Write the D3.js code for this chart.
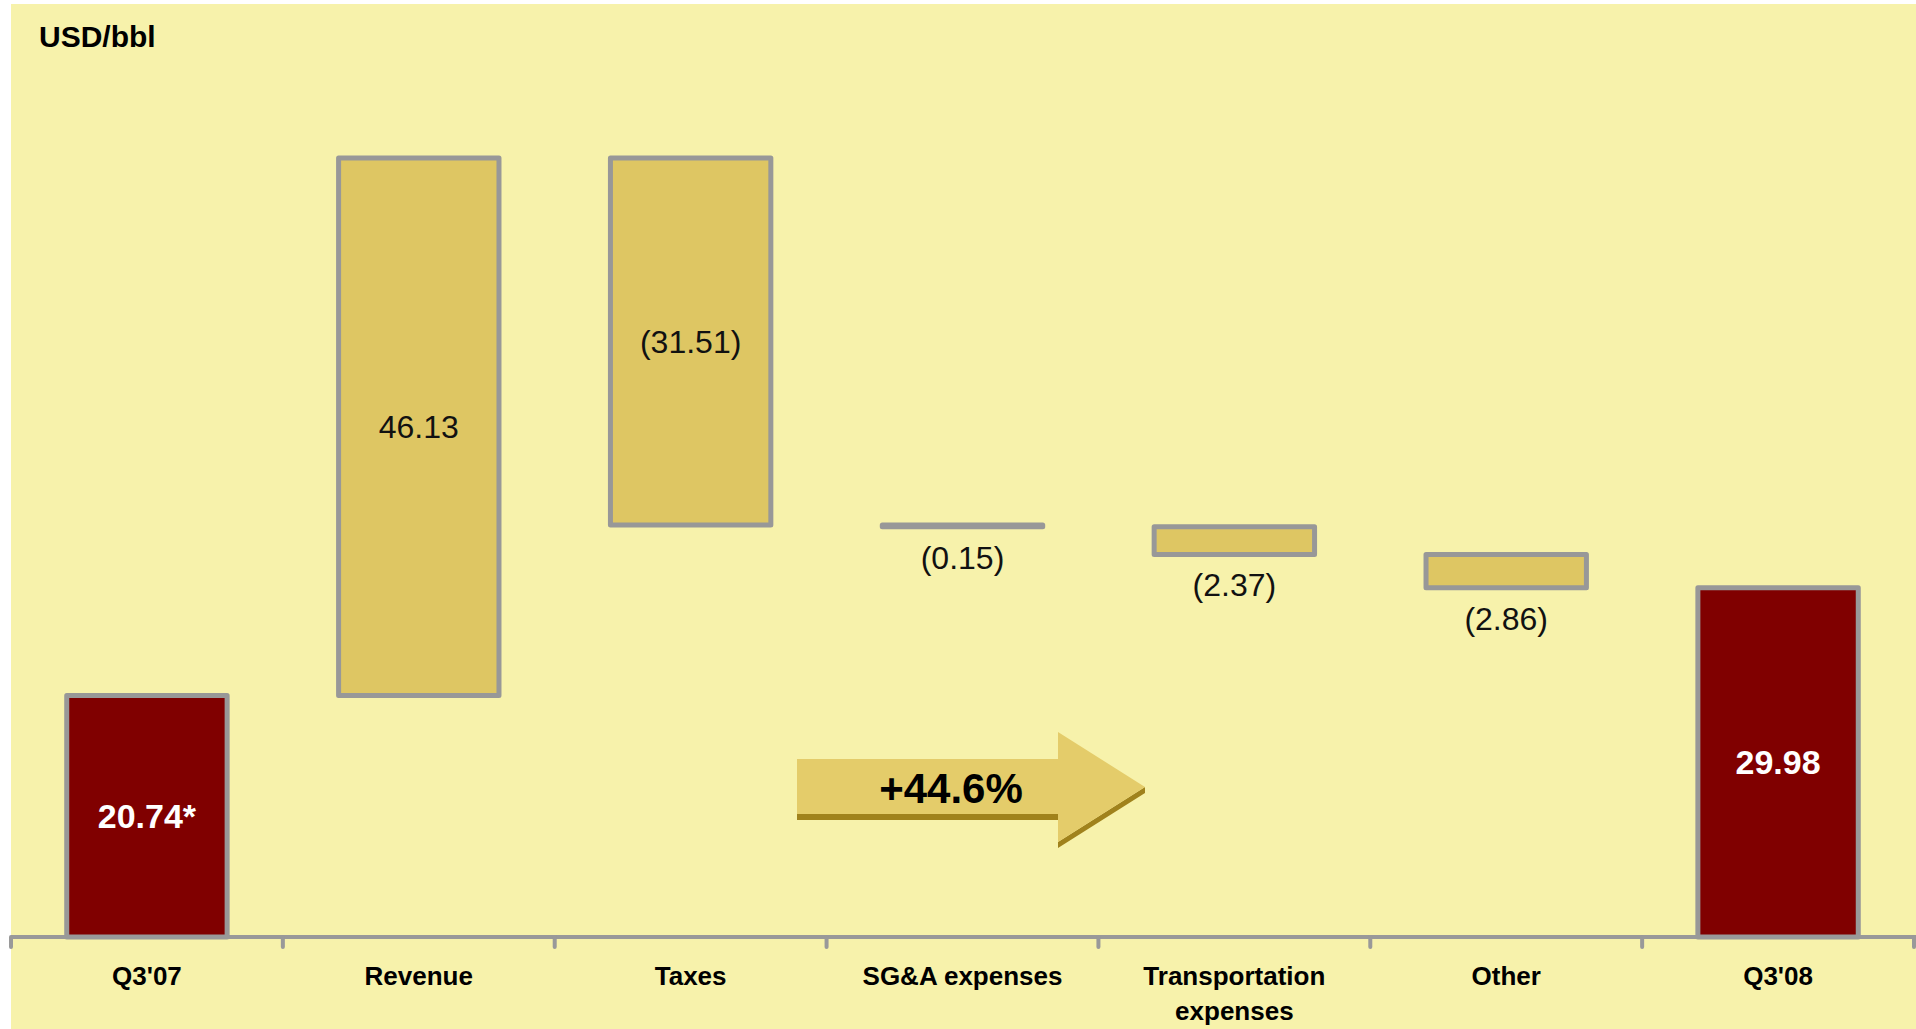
<!DOCTYPE html>
<html>
<head>
<meta charset="utf-8">
<script src="https://cdn.jsdelivr.net/npm/d3@7"></script>
<style>
  html, body { margin: 0; padding: 0; background: #ffffff; }
  svg { display: block; }
  text { font-family: "Liberation Sans", Arial, sans-serif; }
</style>
</head>
<body>
<svg id="chart" width="1916" height="1029"></svg>
<script>
// ---- data ----
const categories = ["Q3'07", "Revenue", "Taxes", "SG&A expenses", "Transportation expenses", "Other", "Q3'08"];
const categoryLines = [["Q3'07"], ["Revenue"], ["Taxes"], ["SG&A expenses"], ["Transportation", "expenses"], ["Other"], ["Q3'08"]];
const values = [20.74, 46.13, -31.51, -0.15, -2.37, -2.86, 29.98];
const barTypes = ["total", "delta", "delta", "delta", "delta", "delta", "total"];
const labelSuffix = ["*", "", "", "", "", "", ""];
const unitLabel = "USD/bbl";
const changeLabel = "+44.6%";
const yTicks = [0, 80];

// ---- layout ----
const W = 1916, H = 1029;
const svg = d3.select("#chart");
const bgLeft = 11, bgTop = 4;
const axisY = 937;

svg.append("rect").attr("x", bgLeft).attr("y", bgTop)
  .attr("width", W - bgLeft).attr("height", H - bgTop).attr("fill", "#F7F2AB");

const x = d3.scaleBand().domain(categories).range([bgLeft, 1914]).padding(0);
const y = d3.scaleLinear().domain(yTicks).range([axisY, 5]);

// waterfall computation
let running = 0;
const bars = categories.map((c, i) => {
  let lo, hi;
  if (barTypes[i] === "total") {
    lo = 0; hi = values[i]; running = values[i];
  } else {
    const start = running; running = start + values[i];
    lo = Math.min(start, running); hi = Math.max(start, running);
  }
  return { cat: c, value: values[i], type: barTypes[i], lo, hi, i };
});

const barW = x.bandwidth() * 0.59;
const g = svg.append("g");

g.selectAll("rect.bar").data(bars).enter().append("rect")
  .attr("class", "bar")
  .attr("x", d => x(d.cat) + (x.bandwidth() - barW) / 2)
  .attr("y", d => y(d.hi))
  .attr("width", barW)
  .attr("height", d => Math.max(0.5, y(d.lo) - y(d.hi)))
  .attr("fill", d => d.type === "total" ? "#800000" : "#DEC663")
  .attr("stroke", "#989898")
  .attr("stroke-width", 5)
  .attr("stroke-linejoin", "round");

// axis
const axis = d3.axisBottom(x).tickSize(0).tickFormat("");
const axG = svg.append("g").attr("transform", `translate(0,${axisY})`).call(axis);
axG.select(".domain").attr("stroke", "#999999").attr("stroke-width", 4).attr("d", `M${bgLeft},0H${W}`);
// boundary ticks
const boundaries = categories.map(c => x(c)).concat([x.range()[1]]);
axG.selectAll("line.btick").data(boundaries).enter().append("line")
  .attr("class", "btick")
  .attr("x1", d => d).attr("x2", d => d)
  .attr("y1", 0).attr("y2", 10)
  .attr("stroke", "#999999").attr("stroke-width", 4).attr("stroke-linecap", "round");

// category labels
const catG = svg.append("g");
categoryLines.forEach((lines, i) => {
  const t = catG.append("text")
    .attr("x", x(categories[i]) + x.bandwidth() / 2)
    .attr("y", 985)
    .attr("text-anchor", "middle")
    .attr("font-size", 26).attr("font-weight", "bold").attr("fill", "#000");
  lines.forEach((ln, k) => {
    t.append("tspan").attr("x", x(categories[i]) + x.bandwidth() / 2)
      .attr("dy", k === 0 ? 0 : 35).text(ln);
  });
});

// value labels
const fmt = v => v < 0 ? `(${d3.format(".2f")(-v)})` : d3.format(".2f")(v);
bars.forEach(d => {
  const cx = x(d.cat) + x.bandwidth() / 2;
  const h = y(d.lo) - y(d.hi);
  let ty, col, weight, size;
  if (d.type === "total") {
    ty = (y(d.lo) + y(d.hi)) / 2; col = "#ffffff"; weight = "bold"; size = 34;
  } else if (h > 60) {
    ty = (y(d.lo) + y(d.hi)) / 2; col = "#111"; weight = "normal"; size = 32;
  } else {
    ty = y(d.lo) + 31; col = "#111"; weight = "normal"; size = 32;
  }
  svg.append("text")
    .attr("x", cx).attr("y", ty)
    .attr("text-anchor", "middle").attr("dominant-baseline", "central")
    .attr("font-size", size).attr("font-weight", weight).attr("fill", col)
    .text(fmt(d.value) + labelSuffix[d.i]);
});

// unit label
svg.append("text").attr("x", 39).attr("y", 47)
  .attr("font-size", 30).attr("font-weight", "bold").attr("fill", "#000")
  .text(unitLabel);

// growth arrow
const arrow = svg.append("g");
const ax0 = 797, ax1 = 1058, bTop = 759, bBot = 814, hTop = 732, hBot = 842, tipX = 1145, tipY = 787, sh = 6;
// shadow
arrow.append("path")
  .attr("d", `M${ax0},${bBot}L${ax1},${bBot}L${ax1},${hBot}L${tipX},${tipY}L${tipX},${tipY + sh}L${ax1},${hBot + sh}L${ax1},${bBot + sh}L${ax0},${bBot + sh}Z`)
  .attr("fill", "#A0821C");
arrow.append("path")
  .attr("d", `M${ax0},${bTop}L${ax1},${bTop}L${ax1},${hTop}L${tipX},${tipY}L${ax1},${hBot}L${ax1},${bBot}L${ax0},${bBot}Z`)
  .attr("fill", "#E4CC6A");
arrow.append("text").attr("x", 951).attr("y", 803)
  .attr("text-anchor", "middle")
  .attr("font-size", 42).attr("font-weight", "bold").attr("fill", "#000")
  .text(changeLabel);
</script>
</body>
</html>
